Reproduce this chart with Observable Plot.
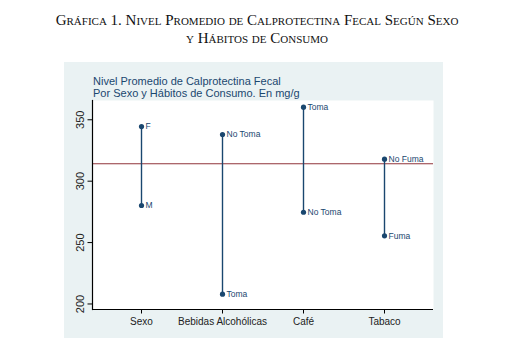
<!DOCTYPE html>
<html>
<head>
<meta charset="utf-8">
<script src="https://cdn.jsdelivr.net/npm/d3@7"></script>
<script src="https://cdn.jsdelivr.net/npm/@observablehq/plot@0.6"></script>
<style>
  html, body { margin: 0; padding: 0; background: #fff; }
  body { width: 514px; height: 357px; position: relative; overflow: hidden; }
  #title {
    position: absolute; left: 0; top: 11px; width: 514px; text-align: center;
    font-family: "Liberation Serif", "DejaVu Serif", serif; font-variant: small-caps;
    font-size: 15px; line-height: 18px; color: #111;
  }
  #panel {
    position: absolute; left: 64px; top: 62px; width: 379px; height: 276px;
    background: #eaf2f3;
  }
  #sub {
    position: absolute; left: 29px; top: 14px;
    font-family: "Liberation Sans", Arial, sans-serif; font-size: 11px; line-height: 11.5px;
    color: #1a476f;
  }
  #chart { position: absolute; left: 0; top: 0; }
</style>
</head>
<body>
<div id="title">Gráfica 1. Nivel Promedio de Calprotectina Fecal Según Sexo<br>y Hábitos de Consumo</div>
<div id="panel">
  <div id="chart"></div>
  <div id="sub">Nivel Promedio de Calprotectina Fecal<br>Por Sexo y Hábitos de Consumo. En mg/g</div>
</div>
<script>
const categories = ["Sexo", "Bebidas Alcohólicas", "Café", "Tabaco"];
const highLabels = ["F", "No Toma", "Toma", "No Fuma"];
const highValues = [344.5, 338, 360.3, 317.9];
const lowLabels = ["M", "Toma", "No Toma", "Fuma"];
const lowValues = [280.2, 208, 274.7, 255.5];
const meanValue = 314.2;
const yTicks = [200, 250, 300, 350];

const ranges = categories.map((c, i) => ({cat: c, lo: lowValues[i], hi: highValues[i]}));
const points = categories.flatMap((c, i) => [
  {cat: c, v: highValues[i], label: highLabels[i]},
  {cat: c, v: lowValues[i], label: lowLabels[i]}
]);

const navy = "#1a476f";
const yDomain = [195.5, 365.7];

const chart = Plot.plot({
  width: 379,
  height: 276,
  marginLeft: 28,
  marginRight: 10,
  marginTop: 38,
  marginBottom: 29,
  style: {background: "transparent", fontFamily: "Liberation Sans, Arial, sans-serif", color: "#222"},
  x: {type: "point", domain: categories, padding: 0.59},
  y: {domain: yDomain},
  marks: [
    Plot.frame({fill: "white", stroke: null}),
    Plot.ruleY([meanValue], {stroke: "#90353b", strokeWidth: 1.2}),
    Plot.ruleX(ranges, {x: "cat", y1: "lo", y2: "hi", stroke: navy, strokeWidth: 1.4}),
    Plot.dot(points, {x: "cat", y: "v", r: 2.6, fill: navy, stroke: null}),
    Plot.text(points, {x: "cat", y: "v", text: "label", textAnchor: "start", dx: 4, fontSize: 8.5, fill: navy}),
    Plot.axisY({ticks: yTicks, tickSize: 4.5, tickRotate: -90, tickPadding: 4, fontSize: 11, label: null, stroke: "#000"}),
    Plot.axisX({tickSize: 4.5, tickPadding: 4, fontSize: 10, label: null, stroke: "#000"}),
    Plot.ruleY([yDomain[0]], {stroke: "#000", strokeWidth: 1.2}),
    Plot.frame({anchor: "left", stroke: "#000", strokeWidth: 1.2})
  ]
});
document.getElementById("chart").appendChild(chart);
</script>
</body>
</html>
